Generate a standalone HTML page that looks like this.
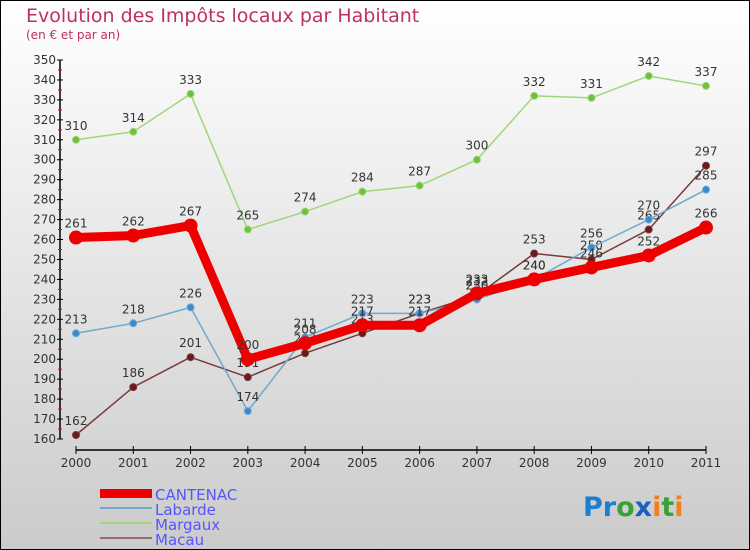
<!DOCTYPE html>
<html><head><meta charset="utf-8"><style>
body{margin:0}
svg{display:block;font-family:"DejaVu Sans","Liberation Sans",sans-serif}
</style></head><body>
<svg width="750" height="550" viewBox="0 0 750 550">
<defs><linearGradient id="bg" x1="0" y1="0" x2="0" y2="1"><stop offset="0" stop-color="#ffffff"/><stop offset="1" stop-color="#cbcbcb"/></linearGradient></defs>
<rect x="0.5" y="0.5" width="749" height="549" fill="url(#bg)" stroke="#000"/>
<text x="26" y="22" font-size="19" fill="#c0305f">Evolution des Impôts locaux par Habitant</text>
<text x="26" y="39" font-size="12" fill="#c0305f">(en € et par an)</text>
<g id="axes"></g>
<g id="series"></g>
<g id="legend">
<rect x="100" y="489" width="52" height="9" fill="#e00"/>
<text x="155" y="500" font-size="15" fill="#5555ff">CANTENAC</text>
<line x1="100" y1="508" x2="152" y2="508" stroke="#6fa8d0" stroke-width="2"/>
<text x="155" y="515" font-size="15" fill="#5555ff">Labarde</text>
<line x1="100" y1="523" x2="152" y2="523" stroke="#9ed67a" stroke-width="2"/>
<text x="155" y="530" font-size="15" fill="#5555ff">Margaux</text>
<line x1="100" y1="538" x2="152" y2="538" stroke="#9a6a6a" stroke-width="2"/>
<text x="155" y="545" font-size="15" fill="#5555ff">Macau</text>
</g>
<text x="583" y="516" font-size="27" font-weight="bold"><tspan fill="#1a7fd0">Pr</tspan><tspan fill="#3aa03a">o</tspan><tspan fill="#1a60c0">x</tspan><tspan fill="#f08020">i</tspan><tspan fill="#3aa03a">t</tspan><tspan fill="#f08020">i</tspan></text>
</svg>
<script>
const years=[2000,2001,2002,2003,2004,2005,2006,2007,2008,2009,2010,2011];
const cantenac=[261,262,267,200,208,217,217,233,240,246,252,266];
const labarde=[213,218,226,174,211,223,223,230,240,256,270,285];
const margaux=[310,314,333,265,274,284,287,300,332,331,342,337];
const macau=[162,186,201,191,203,213,223,232,253,250,265,297];
const yTicks=[160,170,180,190,200,210,220,230,240,250,260,270,280,290,300,310,320,330,340,350];
const NS="http://www.w3.org/2000/svg";
const xS=i=>76+i*(630/11);
const yS=v=>439-(v-160)*(379/190);
function mk(tag,attrs,parent){const e=document.createElementNS(NS,tag);for(const k in attrs)e.setAttribute(k,attrs[k]);parent.appendChild(e);return e;}
const ax=document.getElementById('axes');
const yl=mk('line',{x1:60,y1:yS(350),x2:60,y2:yS(160),stroke:'#000','stroke-width':1.5},ax);


yTicks.forEach(v=>{
 mk('line',{x1:57,x2:63,y1:yS(v),y2:yS(v),stroke:'#000'},ax);
 if(v<350)mk('line',{x1:58,x2:62,y1:yS(v+5),y2:yS(v+5),stroke:'#e00'},ax);
 const t=mk('text',{x:56,y:yS(v)+4,'font-size':12,'text-anchor':'end',fill:'#333'},ax);
 t.textContent=v;
 
 
});
const xl=mk('line',{x1:76,y1:450,x2:706,y2:450,stroke:'#000','stroke-width':1.5},ax);


years.forEach((y,i)=>{
 mk('line',{x1:xS(i),x2:xS(i),y1:446,y2:454,stroke:'#000'},ax);
 const t=mk('text',{x:xS(i),y:467,'font-size':12,'text-anchor':'middle',fill:'#333'},ax);
 t.textContent=y;
 
 
});
const sg=document.getElementById('series');
function series(vals,name,color,w,r,dot){
 const g=mk('g',{},sg);
 
 
 const p=mk('polyline',{points:vals.map((v,i)=>xS(i)+','+yS(v)).join(' '),fill:'none',stroke:color,'stroke-width':w,'stroke-linejoin':'round'},g);
 
 
 vals.forEach((v,i)=>{
  const c=mk('circle',{cx:xS(i),cy:yS(v),r:r,fill:dot,stroke:color,'stroke-width':1},g);
  
  
  const t=mk('text',{x:xS(i),y:yS(v)-10,'font-size':12,'text-anchor':'middle',fill:'#333'},g);
  t.textContent=v;
  
  
 });
}
series(margaux,'margaux','#9ed67a',1.5,3.5,'#6cc23a');
series(macau,'macau','#7a3a3a',1.5,3.5,'#6a1a1a');
series(labarde,'labarde','#6fa8d0',1.5,3.5,'#3a8ad0');
series(cantenac,'cantenac','#ee0000',9,6.5,'#ee0000');
</script>
</body></html>
